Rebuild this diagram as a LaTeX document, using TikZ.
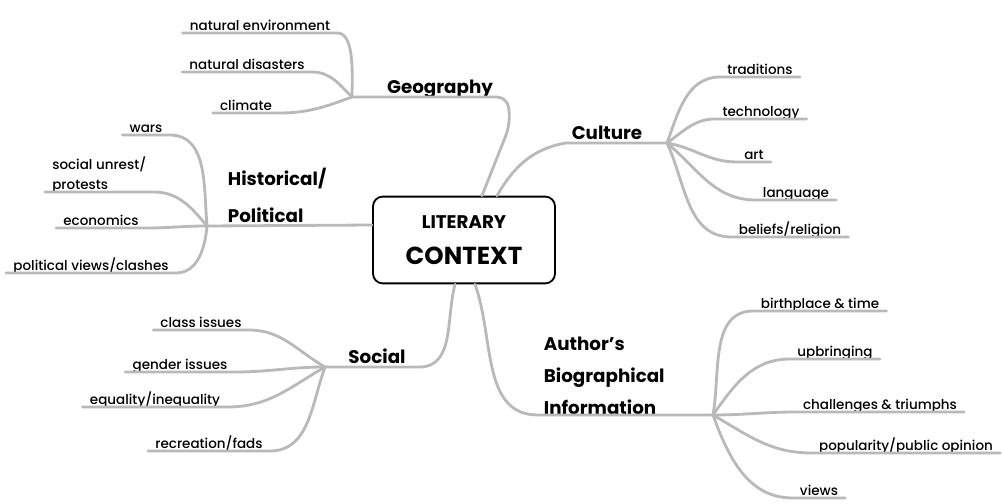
\documentclass[tikz,border=0pt]{standalone}
\usepackage{fontspec}
\setmainfont{Poppins}
\newfontfamily\leaffont{Poppins}[UprightFont={* Medium}]
\usepackage{tikz}
\usetikzlibrary{calc}

\begin{document}
\begin{tikzpicture}[x=0.025cm, y=-0.025cm,
    branch/.style={draw=gray!55, line width=2pt, line cap=round},
    leaf/.style={font=\leaffont\fontsize{9.6}{14}\selectfont, anchor=south, inner xsep=5pt, inner ysep=1.5pt, text depth=0pt, align=left},
    topic/.style={font=\bfseries\fontsize{13}{26}\selectfont, anchor=south, inner xsep=4pt, inner ysep=2.5pt, text depth=0pt, align=left}]
  \useasboundingbox (0,0) rectangle (1002,504);

  \node[draw, line width=1.3pt, rounded corners=7pt, minimum width=4.55cm, minimum height=2.17cm, align=center, font=\bfseries] (ctx) at (464,240)
    {{\fontsize{13}{14}\selectfont LITERARY}\\[12pt]{\fontsize{17.5}{18}\selectfont CONTEXT}};

  \node[topic] (geo) at (440,97) {Geography};
  \node[topic] (cult) at (607,143) {Culture};
  \node[topic, anchor=south west] (hist) at (222,226) {Historical/\\Political};
  \node[topic] (soc) at (377,367) {Social};
  \node[topic, anchor=south west, font=\bfseries\fontsize{13}{22.5}\selectfont] (auth) at (538,418) {Author’s\\Biographical\\Information};

  \coordinate (geoHub) at (352,97);
  \coordinate (cultHub) at (667,143);
  \coordinate (histHub) at (207,226);
  \coordinate (socHub) at (325,367);
  \coordinate (authHub) at (713,415);

  \draw[branch, rounded corners=8pt] (geoHub) -- (508,97) -- (510,125) -- ($(ctx.north)+(18,0)$);
  \draw[branch] ($(ctx.north)+(33,0)$) to[out=60, in=190] (cult.south west) -- (cultHub);
  \draw[branch] (histHub) -- ($(ctx.west)+(0,-15)$);
  \draw[branch] (socHub) -- (soc.south east) -- ++(8,0) to[out=0, in=-105] ($(ctx.south)+(-9,0)$);
  \draw[branch] ($(ctx.south)+(11,0)$) to[out=-70, in=180] (auth.south west |- authHub) -- (authHub);

  % geography
  \node[leaf] (natEnv) at (260,33) {natural environment};
  \node[leaf] (natDis) at (247,72) {natural disasters};
  \node[leaf] (climate) at (246,113) {climate};
  \draw[branch] (natEnv.south west) -- (natEnv.south east) to[out=0, in=90, looseness=0.7] (geoHub);
  \draw[branch] (natDis.south west) -- (natDis.south east) to[out=0, in=135] (geoHub);
  \draw[branch] (climate.south west) -- (climate.south east) to[out=0, in=200] (geoHub);

  % culture
  \node[leaf] (trad) at (760,77) {traditions};
  \node[leaf] (techn) at (761,119) {technology};
  \node[leaf] (art) at (754,162) {art};
  \node[leaf] (lang) at (796,200) {language};
  \node[leaf] (belief) at (790,237) {beliefs/religion};
  \draw[branch] (cultHub) to[out=70, in=180] (trad.south west) -- (trad.south east);
  \draw[branch] (cultHub) to[out=35, in=180] (techn.south west) -- (techn.south east);
  \draw[branch] (cultHub) to[out=-10, in=180] (art.south west) -- (art.south east);
  \draw[branch] (cultHub) to[out=-40, in=180] (lang.south west) -- (lang.south east);
  \draw[branch] (cultHub) to[out=-65, in=180] (belief.south west) -- (belief.south east);

  % historical / political
  \node[leaf] (wars) at (146,135) {wars};
  \node[leaf, anchor=south west] (unrest) at (45,192) {social unrest/\\protests};
  \node[leaf] (econ) at (101,228) {economics};
  \node[leaf] (polit) at (91,273) {political views/clashes};
  \draw[branch] (wars.south west) -- (wars.south east) to[out=0, in=95] (histHub);
  \draw[branch] (unrest.south west) -- (unrest.south east) to[out=0, in=130] (histHub);
  \draw[branch] (econ.south west) -- (econ.south east) to[out=0, in=180] (histHub);
  \draw[branch] (polit.south west) -- (polit.south east) to[out=0, in=-95] (histHub);

  % social
  \node[leaf] (class) at (201,330) {class issues};
  \node[leaf] (gender) at (180,372) {gender issues};
  \node[leaf] (equal) at (155,407) {equality/inequality};
  \node[leaf] (recr) at (209,451) {recreation/fads};
  \draw[branch] (class.south west) -- (class.south east) to[out=0, in=150] (socHub);
  \draw[branch] (gender.south west) -- (gender.south east) to[out=0, in=180] (socHub);
  \draw[branch] (equal.south west) -- (equal.south east) to[out=0, in=210] (socHub);
  \draw[branch] (recr.south west) -- (recr.south east) to[out=0, in=-110] (socHub);

  % author
  \node[leaf] (birth) at (820,311) {birthplace \& time};
  \node[leaf] (upbr) at (835,359) {upbringing};
  \node[leaf] (chall) at (880,412) {challenges \& triumphs};
  \node[leaf] (popul) at (906,453) {popularity/public opinion};
  \node[leaf] (views) at (819,498) {views};
  \draw[branch] (authHub) to[out=80, in=180] (birth.south west) -- (birth.south east);
  \draw[branch] (authHub) to[out=55, in=180] (upbr.south west) -- (upbr.south east);
  \draw[branch] (authHub) to[out=0, in=180] (chall.south west) -- (chall.south east);
  \draw[branch] (authHub) to[out=-30, in=180] (popul.south west) -- (popul.south east);
  \draw[branch] (authHub) to[out=-70, in=180] (views.south west) -- (views.south east);
\end{tikzpicture}
\end{document}
